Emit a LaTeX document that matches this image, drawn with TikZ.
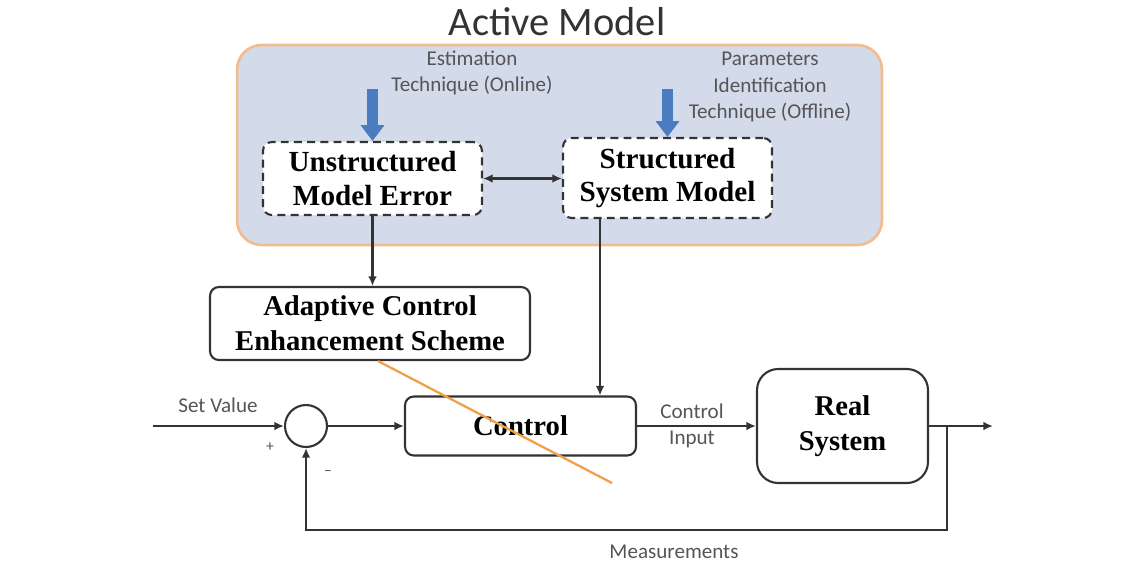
\documentclass[tikz,border=0pt]{standalone}
\usepackage{fontspec}
\setmainfont{Liberation Serif}
\newfontfamily\calib{Carlito}
\usetikzlibrary{arrows.meta,positioning}
\definecolor{modelbg}{HTML}{D3DAEA}
\definecolor{modelrim}{HTML}{F3BC8C}
\definecolor{boxline}{HTML}{333333}
\definecolor{txtgray}{HTML}{555555}
\definecolor{estblue}{HTML}{4A7CC0}
\definecolor{strayorange}{HTML}{EFA04A}

\begin{document}
\begin{tikzpicture}[x=0.02cm,y=-0.02cm,>={Latex[length=5.5pt,width=5pt]},
  block/.style={draw=boxline,line width=1.2pt,rounded corners=5pt,fill=white,
    align=center,inner sep=0pt,font=\bfseries\fontsize{16.3}{19.8}\selectfont},
  dblock/.style={block,dash pattern=on 4.5pt off 3pt,
    font=\bfseries\fontsize{16.6}{19.3}\selectfont},
  small/.style={font=\calib\fontsize{12}{15}\selectfont,text=txtgray,align=center},
  wire/.style={draw=boxline,line width=1.2pt},
  estarrow/.style={draw=estblue,line width=6.5pt,-{Triangle[length=9pt,width=13pt]}}]
  \useasboundingbox (0,0) rectangle (1142,566);

  % active model
  \node[font=\calib\fontsize{23}{27}\selectfont,text=boxline] (title) at (557,22) {Active Model};
  \node[draw=modelrim,fill=modelbg,line width=1.5pt,rounded corners=14pt,
    minimum width=12.9cm,minimum height=4cm] (model) at (559.5,145) {};
  \node[dblock,minimum width=4.38cm,minimum height=1.46cm] (ume) at (372.5,178.5) {Unstructured\\Model Error};
  \node[dblock,minimum width=4.18cm,minimum height=1.6cm] (ssm) at (667.5,178) {Structured\\System Model};
  \node[small] (est) at (472,73) {Estimation\\Technique (Online)};
  \node[small] (pit) at (770,87) {Parameters\\Identification\\Technique (Offline)};
  \draw[estarrow] ([yshift=1.04cm]ume.north) -- (ume.north);
  \draw[estarrow] ([yshift=0.96cm]ssm.north) -- (ssm.north);

  % loop
  \node[block,minimum width=6.4cm,minimum height=1.46cm] (aces) at (370,323.5) {Adaptive Control\\Enhancement Scheme};
  \node[draw=boxline,line width=1.2pt,circle,minimum size=0.84cm,inner sep=0pt] (sum) at (306,426) {};
  \node[block,minimum width=4.62cm,minimum height=1.18cm] (ctrl) at (520.5,426) {Control};
  \node[block,minimum width=3.42cm,minimum height=2.28cm,rounded corners=12pt] (real) at (842.5,426) {Real\\System};
  \coordinate (in) at (153,426);
  \coordinate (out) at (993,426);
  \coordinate (br) at (947,426);
  \coordinate (fb) at (947,530);
  \coordinate (oend) at (612,483);

  \node[small] (sv) at (218,405) {Set Value};
  \node[small,font=\calib\fontsize{9}{10}\selectfont] (plus) at (270,447) {+};
  \node[small,font=\calib\fontsize{9}{10}\selectfont] (minus) at (328,473) {\textendash};
  \node[small] (ci) at (692,426) {Control\\Input};
  \node[small] (meas) at (674,552) {Measurements};

  \draw[wire,<->] (ume.east) -- (ume.east -| ssm.west);
  \draw[wire,->] (ume.south) -- (ume.south |- aces.north);
  \draw[wire,->] ([xshift=-1.35cm]ssm.south) -- ([xshift=-1.35cm]ssm.south |- ctrl.north);
  \draw[wire,->] (in) -- (sum.west);
  \draw[wire,->] (sum.east) -- (ctrl.west);
  \draw[wire,->] (ctrl.east) -- (real.west);
  \draw[wire,->] (real.east) -- (out);
  \draw[wire,->] (br) -- (fb) -| (sum.south);
  \draw[strayorange,line width=1.3pt] ([xshift=0.16cm]aces.south) -- (oend);
\end{tikzpicture}
\end{document}
